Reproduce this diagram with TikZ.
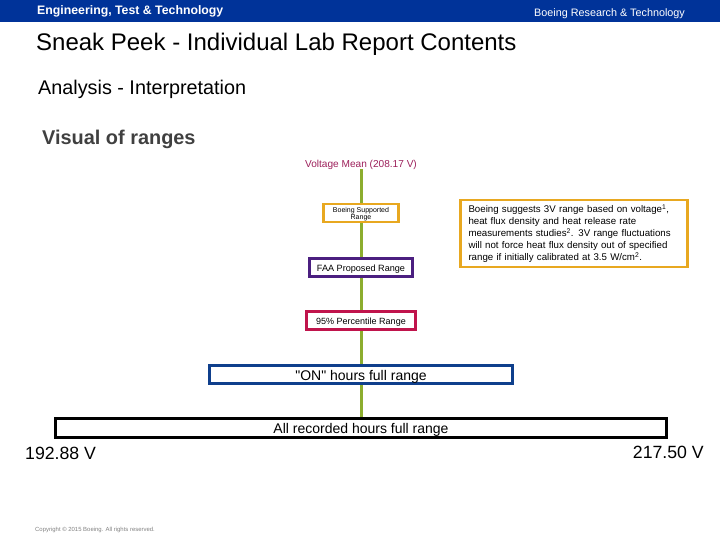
\documentclass[tikz,border=0pt]{standalone}
\usepackage{fontspec}
\setmainfont{Liberation Sans}[Ligatures=TeXOff]
\definecolor{headblue}{HTML}{003399}
\definecolor{stemgreen}{HTML}{8CAD2E}
\definecolor{boeingorange}{HTML}{E8A820}
\definecolor{faapurple}{HTML}{4B1F80}
\definecolor{pctred}{HTML}{C0144C}
\definecolor{onblue}{HTML}{0F3F8C}
\definecolor{meanred}{HTML}{9C1F5A}
\definecolor{visualgray}{HTML}{404040}
\tikzset{
    rangebox/.style={draw, line width=2.8pt, fill=white, inner sep=0pt, align=center, text height=1.1em, text depth=.25em},
    widebox/.style={rangebox, minimum height=18pt, text height=15pt, text depth=3.5pt, font=\fontsize{14}{16}\selectfont},
    stem/.style={stemgreen, line width=3pt},
    plainlabel/.style={inner sep=0pt, anchor=west}
}
\begin{document}
\begin{tikzpicture}[x=1pt,y=-1pt]
    \useasboundingbox (0,0) rectangle (720,540);
    \fill[headblue] (0,0) rectangle (720,22);
    \node[plainlabel, white, font=\bfseries\fontsize{12.3}{14}\selectfont] (unit) at (37,11) {Engineering, Test \& Technology};
    \node[plainlabel, white, font=\fontsize{10.8}{12}\selectfont] (dept) at (534,13.5) {Boeing Research \& Technology};
    \node[plainlabel, font=\fontsize{24}{28}\selectfont] (title) at (36,44) {Sneak Peek - Individual Lab Report Contents};
    \node[plainlabel, font=\fontsize{19.8}{23}\selectfont] (sub) at (38,89.5) {Analysis - Interpretation};
    \node[plainlabel, visualgray, font=\bfseries\fontsize{19.9}{24}\selectfont] (visual) at (42,139) {Visual of ranges};
    % ranges, narrowest first
    \node[inner sep=0pt, meanred, font=\fontsize{10.1}{12}\selectfont] (mean) at (361,164.5) {Voltage Mean (208.17 V)};
    \node[rangebox, draw=boeingorange, minimum width=75pt, minimum height=18pt, text height=14pt, text depth=0pt, font=\fontsize{7}{7.5}\selectfont] (boeing) at (361,213) {Boeing Supported\\Range};
    \node[rangebox, draw=faapurple, minimum width=103pt, minimum height=18.5pt, font=\fontsize{9.1}{11}\selectfont] (faa) at (361,267.5) {FAA Proposed Range};
    \node[rangebox, draw=pctred, minimum width=109pt, minimum height=18.5pt, font=\fontsize{9}{11}\selectfont] (pct) at (361,320.5) {95\% Percentile Range};
    \node[widebox, draw=onblue, minimum width=303pt] (on) at (361,374.5) {"ON" hours full range};
    \node[widebox, draw=black, minimum width=611pt] (all) at (361,428) {All recorded hours full range};
    \draw[stem] (mean.south) -- (boeing);
    \draw[stem] (boeing) -- (faa);
    \draw[stem] (faa) -- (pct);
    \draw[stem] (pct) -- (on);
    \draw[stem] (on) -- (all);
    \node[plainlabel, font=\fontsize{17.7}{20}\selectfont] (low) at (25,453.5) {192.88 V};
    \node[plainlabel, anchor=east, font=\fontsize{17.7}{20}\selectfont] (high) at (704,452) {217.50 V};
    % callout on the right
    \node[draw=boeingorange, line width=2.8pt, fill=white, minimum width=227.5pt, minimum height=67pt, inner sep=0pt, inner xsep=8pt, align=left, text width=211pt, font=\fontsize{9.7}{12}\selectfont] (note) at (574,233.5)
        {Boeing suggests 3V range based on voltage\textsuperscript{1},\\heat flux density and heat release rate\\measurements studies\textsuperscript{2}. 3V range fluctuations\\will not force heat flux density out of specified\\range if initially calibrated at 3.5 W/cm\textsuperscript{2}.};
    \node[plainlabel, gray, font=\fontsize{5.95}{7}\selectfont] (copy) at (35,530) {Copyright © 2015 Boeing. All rights reserved.};
\end{tikzpicture}
\end{document}
